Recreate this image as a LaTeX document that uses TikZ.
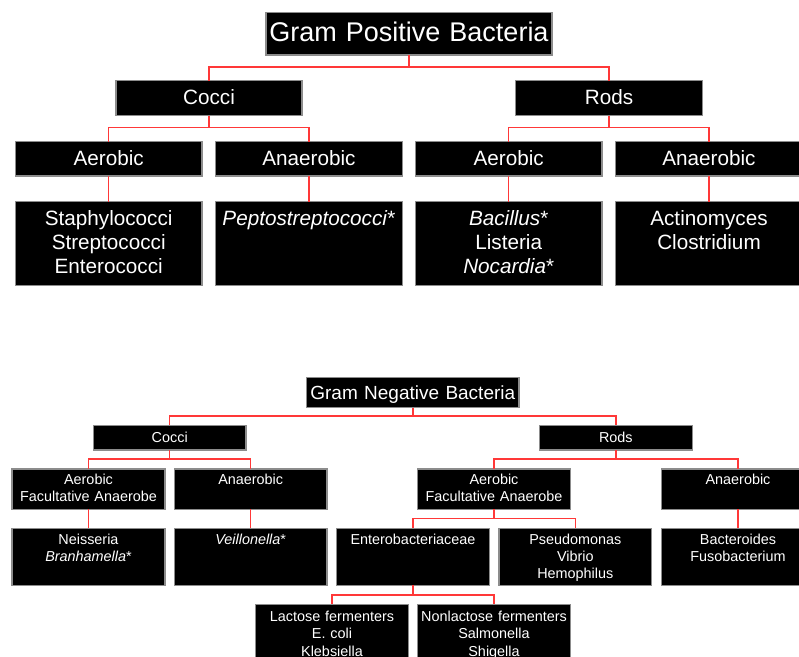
\documentclass[tikz,border=0pt]{standalone}
\usepackage{fontspec}
\setmainfont{Liberation Sans}
\definecolor{boxgray}{HTML}{8C8C8C}
\definecolor{linkred}{HTML}{FF3838}
\begin{document}
\begin{tikzpicture}[x=1pt,y=-1pt,
  box/.style={draw=boxgray, fill=black, text=white, line width=1.4pt,
    inner sep=0pt, outer sep=0pt, align=center, anchor=north},
  link/.style={draw=linkred, line width=1.5pt},
  bigtitle/.style={font=\fontsize{27}{32}\selectfont},
  bigtext/.style={font=\fontsize{20.7}{24}\selectfont},
  midtitle/.style={font=\fontsize{19}{22}\selectfont},
  smalltext/.style={font=\fontsize{14.4}{17.4}\selectfont},
  % box geometry helpers: width, first baseline, rest of height
  bx/.style n args={3}{text width=#1, text height=#2, text depth=#3}
]
\useasboundingbox (0,0) rectangle (799,656);

% ---------------- Gram positive tree ----------------
\node[box, bigtitle, bx={286}{29.4}{13.3}] (gp) at (409,12.3) {Gram Positive Bacteria};

\node[box, bigtext, bx={186.3}{23.6}{11.4}] (gpcocci) at (209,80.7) {Cocci};
\node[box, bigtext, bx={186.6}{23.6}{11.4}] (gprods) at (609,80.7) {Rods};

\node[box, bigtext, bx={186.7}{23.3}{11}] (gpcaer) at (108.7,141.7) {Aerobic};
\node[box, bigtext, bx={187}{23.3}{11}] (gpcana) at (309,141.7) {Anaerobic};
\node[box, bigtext, bx={186.7}{23.3}{11}] (gpraer) at (508.7,141.7) {Aerobic};
\node[box, bigtext, bx={187}{23.3}{11}] (gprana) at (709,141.7) {Anaerobic};

\node[box, bigtext, bx={186.7}{24}{60}] (gpcaerl) at (108.7,201.7)
  {Staphylococci\\Streptococci\\Enterococci};
\node[box, bigtext, bx={187}{24}{60}] (gpcanal) at (309,201.7)
  {\textit{Peptostreptococci}*};
\node[box, bigtext, bx={186.7}{24}{60}] (gpraerl) at (508.7,201.7)
  {\textit{Bacillus}*\\Listeria\\\textit{Nocardia}*};
\node[box, bigtext, bx={187}{24}{60}] (gpranal) at (709,201.7)
  {Actinomyces\\Clostridium};

\draw[link] (gp.south) -- ++(0,12) -| (gpcocci.north);
\draw[link] (gp.south) -- ++(0,12) -| (gprods.north);
\draw[link] (gpcocci.south) -- ++(0,12) -| (gpcaer.north);
\draw[link] (gpcocci.south) -- ++(0,12) -| (gpcana.north);
\draw[link] (gprods.south) -- ++(0,12) -| (gpraer.north);
\draw[link] (gprods.south) -- ++(0,12) -| (gprana.north);
\draw[link] (gpcaer.south) -- (gpcaerl.north);
\draw[link] (gpcana.south) -- (gpcanal.north);
\draw[link] (gpraer.south) -- (gpraerl.north);
\draw[link] (gprana.south) -- (gpranal.north);

% ---------------- Gram negative tree ----------------
\node[box, midtitle, bx={212.3}{22}{8.4}] (gn) at (412.8,377.3) {Gram Negative Bacteria};

\node[box, smalltext, bx={152.7}{17.4}{7.3}] (gncocci) at (169.7,425.3) {Cocci};
\node[box, smalltext, bx={153}{17.4}{7.3}] (gnrods) at (615.8,425.3) {Rods};

\node[box, smalltext, bx={153}{15.3}{25}] (gncaer) at (88.5,469)
  {Aerobic\\Facultative Anaerobe};
\node[box, smalltext, bx={152.7}{15.3}{25}] (gncana) at (250.7,469) {Anaerobic};
\node[box, smalltext, bx={152.6}{15.3}{25}] (gnraer) at (494,469)
  {Aerobic\\Facultative Anaerobe};
\node[box, smalltext, bx={153}{15.3}{25}] (gnrana) at (738,469) {Anaerobic};

\node[box, smalltext, bx={153}{15.7}{41.3}] (gnneis) at (88.5,528.3)
  {Neisseria\\\textit{Branhamella}*};
\node[box, smalltext, bx={152.7}{15.7}{41.3}] (gnveil) at (250.7,528.3)
  {\textit{Veillonella}*};
\node[box, smalltext, bx={152.6}{15.7}{41.3}] (gnentero) at (413,528.3)
  {Enterobacteriaceae};
\node[box, smalltext, bx={152.7}{15.7}{41.3}] (gnpseudo) at (575.3,528.3)
  {Pseudomonas\\Vibrio\\Hemophilus};
\node[box, smalltext, bx={153}{15.7}{41.3}] (gnbact) at (738,528.3)
  {Bacteroides\\Fusobacterium};

\node[box, smalltext, bx={152.6}{17}{40}] (gnlac) at (332,604.3)
  {Lactose fermenters\\E. coli\\Klebsiella};
\node[box, smalltext, bx={152.6}{17}{40}] (gnnonlac) at (494,604.3)
  {Nonlactose fermenters\\Salmonella\\Shigella};

\draw[link] (gn.south) -- ++(0,8.3) -| (gncocci.north);
\draw[link] (gn.south) -- ++(0,8.3) -| (gnrods.north);
\draw[link] (gncocci.south) -- ++(0,9) -| (gncaer.north);
\draw[link] (gncocci.south) -- ++(0,9) -| (gncana.north);
\draw[link] (gnrods.south) -- ++(0,9) -| (gnraer.north);
\draw[link] (gnrods.south) -- ++(0,9) -| (gnrana.north);
\draw[link] (gncaer.south) -- (gnneis.north);
\draw[link] (gncana.south) -- (gnveil.north);
\draw[link] (gnraer.south) -- ++(0,9) -| (gnentero.north);
\draw[link] (gnraer.south) -- ++(0,9) -| (gnpseudo.north);
\draw[link] (gnrana.south) -- (gnbact.north);
\draw[link] (gnentero.south) -- ++(0,9.7) -| (gnlac.north);
\draw[link] (gnentero.south) -- ++(0,9.7) -| (gnnonlac.north);
\end{tikzpicture}
\end{document}
